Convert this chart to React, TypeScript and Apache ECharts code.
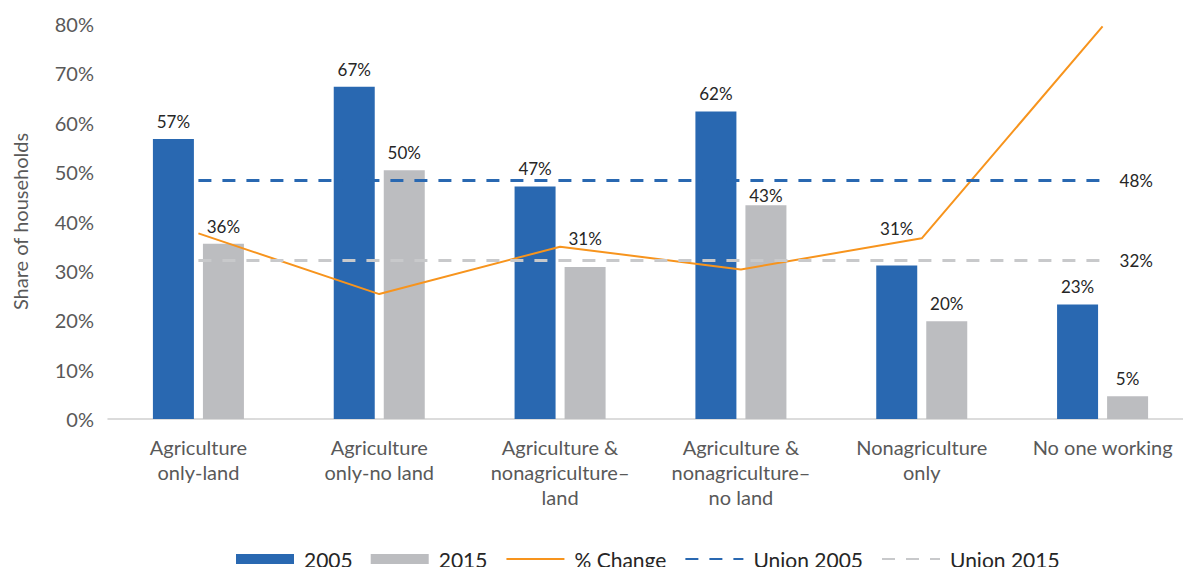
import React, { useEffect, useRef } from "react";
import * as echarts from "echarts";

const categories = [
  "Agriculture\nonly-land",
  "Agriculture\nonly-no land",
  "Agriculture &\nnonagriculture–\nland",
  "Agriculture &\nnonagriculture–\nno land",
  "Nonagriculture\nonly",
  "No one working",
];
const share2005 = [56.7, 67.3, 47.1, 62.3, 31.1, 23.2];
const share2015 = [35.5, 50.4, 30.8, 43.3, 19.8, 4.6];
const pctChange = [37.6, 25.3, 34.9, 30.3, 36.6, 79.5];
const union2005 = 48.3;
const union2015 = 32.1;
const yTicks = [0, 10, 20, 30, 40, 50, 60, 70, 80];

const FONT = "Lato";
const BLUE = "#2968B1";
const GRAY = "#BCBDC0";
const ORANGE = "#F7941D";
const DGRAY = "#C8C9CB";

const label2005Offsets: Record<number, number[]> = { 4: [0, -19] };
const label2015Offsets: Record<number, number[]> = { 2: [0, -11], 3: [0, 8] };

export default function App() {
  const ref = useRef<HTMLDivElement>(null);
  useEffect(() => {
    if (!ref.current) return;
    const chart = echarts.init(ref.current, undefined, { renderer: "svg" });
    const barLabel = {
      show: true,
      position: "top",
      distance: 9,
      color: "#262626",
      fontFamily: FONT,
      fontSize: 17,
      formatter: (p: any) => Math.round(p.value) + "%",
    };
    const hideSymbol = { opacity: 0 };
    chart.setOption({
      animation: false,
      textStyle: { fontFamily: FONT },
      grid: { left: 108, right: 0, top: 24, bottom: 148 },
      legend: {
        left: 236,
        top: 548,
        padding: 0,
        itemWidth: 58,
        itemHeight: 10,
        itemGap: 18,
        textStyle: { fontFamily: FONT, fontSize: 21, color: "#262626", padding: [0, 0, 0, 5], lineHeight: 22 },
        data: [
          { name: "2005", icon: "rect" },
          { name: "2015", icon: "rect" },
          { name: "% Change", itemStyle: hideSymbol },
          { name: "Union 2005", itemStyle: hideSymbol },
          { name: "Union 2015", itemStyle: hideSymbol },
        ],
      },
      xAxis: {
        type: "category",
        data: categories,
        axisTick: { show: false },
        axisLine: { lineStyle: { color: "#D0D0D0", width: 1.5 } },
        axisLabel: {
          color: "#595959",
          fontFamily: FONT,
          fontSize: 20,
          lineHeight: 25,
          margin: 15,
          interval: 0,
        },
      },
      yAxis: {
        type: "value",
        min: yTicks[0],
        max: yTicks[yTicks.length - 1],
        interval: 10,
        splitLine: { show: false },
        axisLine: { show: false },
        axisTick: { show: false },
        axisLabel: {
          color: "#595959",
          fontFamily: FONT,
          fontSize: 20,
          margin: 14,
          formatter: "{value}%",
        },
        name: "Share of households",
        nameLocation: "middle",
        nameGap: 78,
        nameTextStyle: { color: "#595959", fontFamily: FONT, fontSize: 20 },
      },
      series: [
        {
          name: "2005",
          type: "bar",
          barWidth: 41,
          barGap: "22%",
          itemStyle: { color: BLUE },
          label: barLabel,
          data: share2005.map((v, i) => ({
            value: v,
            label: label2005Offsets[i] ? { offset: label2005Offsets[i] } : undefined,
          })),
        },
        {
          name: "2015",
          type: "bar",
          barWidth: 41,
          barGap: "22%",
          itemStyle: { color: GRAY },
          label: barLabel,
          data: share2015.map((v, i) => ({
            value: v,
            label: label2015Offsets[i] ? { offset: label2015Offsets[i] } : undefined,
          })),
        },
        {
          name: "% Change",
          type: "line",
          symbol: "none",
          itemStyle: { color: ORANGE },
          lineStyle: { color: ORANGE, width: 2 },
          data: pctChange,
        },
        {
          name: "Union 2005",
          type: "line",
          symbol: "none",
          itemStyle: { color: BLUE },
          lineStyle: { color: BLUE, width: 3, type: [13, 11] },
          endLabel: {
            show: true,
            distance: 17,
            color: "#262626",
            fontFamily: FONT,
            fontSize: 17,
            formatter: () => Math.round(union2005) + "%",
          },
          data: categories.map(() => union2005),
        },
        {
          name: "Union 2015",
          type: "line",
          symbol: "none",
          itemStyle: { color: DGRAY },
          lineStyle: { color: DGRAY, width: 3, type: [13, 11] },
          endLabel: {
            show: true,
            distance: 17,
            color: "#262626",
            fontFamily: FONT,
            fontSize: 17,
            formatter: () => Math.round(union2015) + "%",
          },
          data: categories.map(() => union2015),
        },
      ],
    });
    return () => chart.dispose();
  }, []);
  return (
    <div style={{ position: "absolute", left: 0, top: 0, width: 1183, height: 567, overflow: "hidden" }}>
      <div ref={ref} style={{ width: 1193, height: 567 }} />
    </div>
  );
}
